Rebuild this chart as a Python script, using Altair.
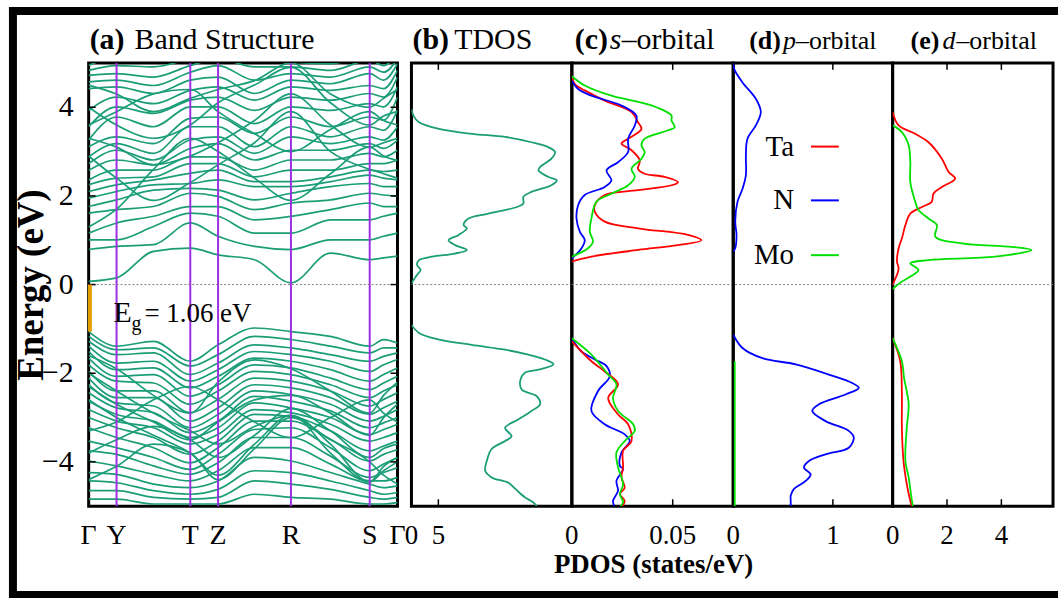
import altair as alt
import pandas as pd

FONT = "Liberation Serif, Times New Roman, Times, serif"
TEAL = "#1b9e77"
PURPLE = "#9b30e0"
ORANGE = "#e69f00"
RED = "#ff0000"
BLUE = "#0000ff"
GREEN = "#00e000"

# ---------------- band structure ----------------
K_SAMPLE = [0.0, 0.0903, 0.21, 0.329, 0.419, 0.537, 0.655, 0.783, 0.910, 0.955, 1.0]
SYM_K = [0.0, 0.0903, 0.329, 0.419, 0.655, 0.910, 1.0]
SYM_LABELS = ["Γ", "Y", "T", "Z", "R", "S", "Γ"]
GAP = 1.06
E_TICKS = [-4, -2, 0, 2, 4]
E_TICK_LABELS = ["−4", "−2", "0", "2", "4"]

# conduction levels (eV) read at each sample point, low to high
CB_G0 = [0.07, 0.79, 1.01, 1.16, 1.61, 1.76, 1.95, 2.10, 2.25, 2.36, 2.58, 2.73, 2.88, 3.11, 3.26, 3.56, 3.93, 4.42, 4.57, 4.72, 4.83, 4.94]
CB_Y = [0.15, 0.86, 1.01, 1.39, 1.69, 1.91, 2.10, 2.25, 2.40, 2.58, 2.81, 3.03, 3.18, 3.33, 3.78, 4.01, 4.23, 4.46, 4.61, 4.76, 4.94, 5.13]
CB_YT = [0.75, 0.90, 1.31, 1.54, 1.76, 2.13, 2.25, 2.36, 2.43, 2.58, 2.70, 2.81, 2.96, 3.18, 3.56, 3.86, 4.08, 4.31, 4.49, 4.68, 4.91, 5.13]
CB_T = [0.82, 1.39, 1.61, 1.76, 2.06, 2.17, 2.28, 2.51, 2.73, 2.88, 3.07, 3.26, 3.56, 3.75, 4.01, 4.16, 4.38, 4.61, 4.79, 4.94, 5.09, 5.21]
CB_Z = [0.67, 1.09, 1.54, 1.76, 1.99, 2.13, 2.36, 2.58, 2.73, 2.88, 3.18, 3.33, 3.56, 3.78, 4.01, 4.23, 4.46, 4.68, 4.94, 5.09, 5.21, 5.32]
CB_ZR = [0.56, 0.86, 1.16, 1.46, 1.69, 1.91, 2.21, 2.32, 2.43, 2.58, 2.81, 2.96, 3.11, 3.41, 3.63, 3.93, 4.16, 4.31, 4.61, 4.91, 5.09, 5.21]
CB_R = [0.04, 0.79, 1.16, 1.54, 1.84, 2.06, 2.21, 2.32, 2.58, 2.81, 3.03, 3.33, 3.56, 3.78, 4.01, 4.23, 4.46, 4.61, 4.76, 4.91, 5.02, 5.13]
CB_RS = [0.71, 1.01, 1.46, 1.69, 1.91, 2.21, 2.32, 2.43, 2.58, 2.81, 3.03, 3.18, 3.33, 3.56, 3.93, 4.16, 4.38, 4.53, 4.68, 4.83, 4.98, 5.13]
CB_S = [0.56, 1.01, 1.46, 1.84, 2.06, 2.28, 2.47, 2.58, 2.73, 2.96, 3.18, 3.33, 3.56, 3.78, 4.08, 4.31, 4.49, 4.76, 4.91, 5.06, 5.17, 5.28]
CB_SG = [0.60, 1.09, 1.54, 1.76, 2.02, 2.21, 2.40, 2.55, 2.73, 2.88, 3.07, 3.26, 3.48, 3.71, 4.01, 4.23, 4.42, 4.61, 4.79, 4.94, 5.09, 5.21]
CB_G1 = [0.64, 1.16, 1.61, 1.76, 1.99, 2.21, 2.36, 2.58, 2.81, 3.03, 3.26, 3.56, 3.93, 4.23, 4.46, 4.68, 4.83, 4.98, 5.09, 5.21, 5.28, 5.36]

# valence levels (eV) read at each sample point, high to low
VB_G0 = [-1.06, -1.17, -1.28, -1.39, -1.51, -1.66, -1.81, -1.96, -2.11, -2.26, -2.44, -2.63, -2.82, -3.00, -3.23, -3.53, -3.75, -3.98, -4.24, -4.43, -4.65, -4.84]
VB_Y = [-1.39, -1.47, -1.58, -1.77, -1.92, -2.07, -2.18, -2.40, -2.55, -2.67, -2.78, -2.93, -3.08, -3.23, -3.45, -3.68, -3.83, -4.09, -4.28, -4.47, -4.65, -4.84]
VB_YT = [-1.28, -1.43, -1.54, -1.73, -1.88, -2.03, -2.22, -2.40, -2.55, -2.74, -2.89, -3.08, -3.23, -3.45, -3.68, -3.90, -4.09, -4.28, -4.50, -4.65, -4.80, -4.95]
VB_T = [-1.73, -1.84, -2.03, -2.18, -2.33, -2.52, -2.70, -2.89, -3.08, -3.23, -3.34, -3.45, -3.60, -3.83, -4.02, -4.17, -4.28, -4.43, -4.58, -4.73, -4.84, -4.95]
VB_Z = [-1.36, -1.58, -1.77, -1.92, -2.07, -2.26, -2.40, -2.59, -2.78, -2.93, -3.08, -3.23, -3.38, -3.53, -3.68, -3.83, -4.02, -4.20, -4.43, -4.62, -4.80, -4.95]
VB_ZR = [-0.98, -1.17, -1.36, -1.51, -1.66, -1.81, -1.96, -2.11, -2.26, -2.40, -2.52, -2.67, -2.82, -2.93, -3.08, -3.27, -3.45, -3.68, -3.90, -4.20, -4.43, -4.73]
VB_R = [-1.06, -1.24, -1.43, -1.58, -1.73, -1.88, -2.03, -2.18, -2.33, -2.48, -2.63, -2.78, -2.89, -2.97, -3.08, -3.23, -3.45, -3.68, -3.98, -4.24, -4.50, -4.80]
VB_RS = [-1.17, -1.39, -1.58, -1.73, -1.92, -2.11, -2.26, -2.40, -2.55, -2.70, -2.85, -3.00, -3.15, -3.30, -3.49, -3.68, -3.87, -4.05, -4.24, -4.43, -4.62, -4.84]
VB_S = [-1.39, -1.54, -1.73, -1.96, -2.18, -2.37, -2.55, -2.74, -2.93, -3.08, -3.23, -3.38, -3.53, -3.75, -3.98, -4.20, -4.35, -4.43, -4.50, -4.65, -4.80, -4.95]
VB_SG = [-1.24, -1.43, -1.62, -1.81, -2.03, -2.22, -2.40, -2.59, -2.78, -2.97, -3.12, -3.27, -3.45, -3.64, -3.83, -4.05, -4.24, -4.43, -4.58, -4.73, -4.84, -4.95]
VB_G1 = [-1.32, -1.43, -1.54, -1.69, -1.88, -2.07, -2.26, -2.44, -2.63, -2.82, -3.00, -3.15, -3.34, -3.53, -3.72, -3.90, -4.13, -4.35, -4.54, -4.69, -4.80, -4.92]

# bands that visibly cross the others
CROSS_1 = [1.3, 1.7, 2.6, 3.3, 3.0, 2.4, 1.9, 2.5, 3.1, 2.9, 2.8]
CROSS_2 = [2.9, 2.4, 1.9, 2.3, 2.7, 3.2, 3.9, 3.0, 2.6, 2.5, 2.4]
CROSS_3 = [4.0, 3.6, 3.3, 3.6, 4.1, 4.5, 4.9, 4.1, 3.6, 3.8, 3.9]
CROSS_4 = [3.6, 3.9, 4.3, 4.4, 3.9, 3.4, 3.0, 3.5, 3.9, 3.7, 3.6]
CROSS_5 = [-2.0, -2.4, -2.9, -3.3, -3.6, -3.2, -2.95, -3.6, -4.45, -4.1, -3.9]
CROSS_6 = [-2.6, -3.0, -3.4, -3.8, -4.3, -3.6, -2.95, -3.8, -4.45, -4.2, -4.0]
CROSS_7 = [-3.3, -3.1, -2.6, -2.3, -2.6, -3.1, -3.45, -3.0, -2.6, -2.9, -3.1]
CROSS_8 = [-4.4, -4.1, -3.6, -3.8, -4.4, -3.7, -3.0, -3.5, -4.0, -4.3, -4.5]
CROSS_9 = [-1.6, -1.9, -2.5, -2.9, -2.2, -1.7, -1.9, -2.4, -2.9, -2.5, -2.2]
CROSS_10 = [4.5, 4.3, 3.9, 4.2, 4.4, 4.6, 5.0, 4.3, 4.0, 4.2, 4.4]
CROSS_11 = [3.3, 3.1, 2.7, 2.9, 3.2, 3.7, 4.3, 3.6, 3.1, 3.2, 3.3]
CROSS_12 = [-3.8, -3.5, -3.2, -3.5, -3.9, -3.4, -2.8, -3.3, -3.9, -3.7, -3.6]
CROSS_13 = [-2.3, -2.7, -3.1, -3.5, -3.1, -2.6, -2.5, -2.9, -3.4, -3.0, -2.7]

# ---------------- DOS (E in eV, value in states/eV) ----------------
TDOS_C_E = [3.96, 3.80, 3.66, 3.51, 3.40, 3.33, 3.21, 3.10, 2.99, 2.84, 2.65, 2.58, 2.43, 2.35, 2.24, 2.09, 1.98, 1.83, 1.75, 1.60, 1.49, 1.34, 1.27, 1.12, 1.00, 0.89, 0.78, 0.70, 0.63, 0.55, 0.44, 0.33, 0.22, 0.03]
TDOS_C_V = [0.0, 0.4, 1.4, 5.1, 11.2, 17.4, 22.3, 25.4, 26.7, 26.0, 23.9, 23.6, 25.4, 27.0, 26.0, 22.3, 20.8, 20.8, 19.6, 14.3, 10.6, 9.7, 10.3, 8.8, 6.9, 8.1, 10.3, 8.1, 3.8, 1.4, 1.05, 1.7, 1.05, 0.0]
TDOS_V_E = [-0.91, -1.09, -1.24, -1.36, -1.47, -1.58, -1.69, -1.80, -1.92, -1.99, -2.18, -2.37, -2.52, -2.70, -2.85, -3.04, -3.23, -3.42, -3.53, -3.71, -3.98, -4.20, -4.35, -4.47, -4.61, -4.80, -4.91, -5.0]
TDOS_V_V = [0.0, 1.4, 5.1, 11.2, 17.4, 21.7, 24.8, 26.4, 23.6, 21.1, 20.2, 20.5, 23.3, 23.9, 22.3, 19.9, 17.4, 18.6, 17.4, 14.9, 14.0, 13.7, 14.9, 18.0, 19.3, 21.1, 22.6, 23.3]

S_TA_C_E = [0.52, 0.63, 0.78, 0.89, 1.00, 1.12, 1.27, 1.42, 1.64, 1.79, 2.02, 2.13, 2.24, 2.31, 2.43, 2.50, 2.61, 2.80, 3.03, 3.18, 3.29, 3.51, 3.66, 3.89, 4.15, 4.38, 4.52, 4.70]
S_TA_C_V = [0.0, 0.0097, 0.0328, 0.0526, 0.0642, 0.0576, 0.0328, 0.0163, 0.0114, 0.0114, 0.0163, 0.0328, 0.0494, 0.0526, 0.046, 0.0361, 0.0328, 0.0337, 0.0296, 0.0246, 0.0279, 0.0345, 0.0328, 0.0296, 0.0163, 0.0064, 0.0015, 0.0]
S_N_C_E = [0.59, 0.82, 1.00, 1.19, 1.49, 1.79, 2.02, 2.20, 2.35, 2.58, 2.76, 2.99, 3.29, 3.59, 3.81, 4.04, 4.26, 4.41, 4.60]
S_N_C_V = [0.0, 0.0048, 0.0064, 0.004, 0.0023, 0.0031, 0.0064, 0.0163, 0.0196, 0.0172, 0.0229, 0.0279, 0.0279, 0.0312, 0.032, 0.0246, 0.0097, 0.0031, 0.0]
S_MO_C_E = [0.63, 0.82, 0.97, 1.19, 1.49, 1.87, 2.05, 2.24, 2.43, 2.61, 2.84, 2.99, 3.14, 3.29, 3.48, 3.55, 3.70, 3.81, 4.04, 4.26, 4.49, 4.70]
S_MO_C_V = [0.0, 0.008, 0.0105, 0.0089, 0.0097, 0.0122, 0.0196, 0.0279, 0.0312, 0.0296, 0.0345, 0.0361, 0.0345, 0.0361, 0.0477, 0.051, 0.0494, 0.0494, 0.0395, 0.0196, 0.0064, 0.0]
S_TA_V_E = [-1.28, -1.73, -1.96, -2.25, -2.56, -2.93, -3.15, -3.53, -3.75, -4.12, -4.35, -4.58, -4.73, -4.88, -5.0]
S_TA_V_V = [0.0, 0.0097, 0.0163, 0.0229, 0.018, 0.0229, 0.0279, 0.0296, 0.0254, 0.0254, 0.0246, 0.0262, 0.0238, 0.0262, 0.025]
S_N_V_E = [-1.21, -1.51, -1.69, -1.84, -2.07, -2.40, -2.85, -3.15, -3.38, -3.53, -3.79, -4.09, -4.16, -4.43, -4.65, -4.88, -5.0]
S_N_V_V = [0.0, 0.0048, 0.0114, 0.0172, 0.0188, 0.013, 0.0097, 0.0163, 0.0262, 0.0287, 0.0246, 0.0238, 0.0254, 0.0221, 0.0229, 0.0204, 0.021]
S_MO_V_E = [-1.21, -1.58, -2.03, -2.25, -2.56, -2.85, -3.15, -3.30, -3.53, -3.79, -4.12, -4.50, -4.73, -4.91, -5.0]
S_MO_V_V = [0.0, 0.0097, 0.018, 0.0221, 0.0204, 0.0229, 0.0304, 0.0312, 0.0262, 0.0221, 0.0229, 0.0254, 0.0238, 0.0254, 0.024]

P_N_C_E = [0.75, 0.82, 1.12, 1.42, 1.87, 2.16, 2.47, 2.91, 3.29, 3.59, 3.89, 4.19, 4.56, 4.86, 5.0]
P_N_C_V = [0.0, 0.02, 0.033, 0.02, 0.043, 0.093, 0.127, 0.127, 0.143, 0.227, 0.277, 0.227, 0.093, 0.01, 0.0]
P_N_V_E = [-1.13, -1.43, -1.66, -1.80, -2.03, -2.22, -2.33, -2.48, -2.70, -2.85, -3.08, -3.30, -3.45, -3.68, -3.83, -3.98, -4.13, -4.28, -4.43, -4.61, -4.76, -4.88, -5.0]
P_N_V_V = [0.0, 0.093, 0.293, 0.627, 0.96, 1.193, 1.26, 1.127, 0.86, 0.793, 0.927, 1.16, 1.21, 1.16, 0.927, 0.76, 0.71, 0.777, 0.727, 0.61, 0.577, 0.577, 0.577]
P_MO_V_E = [-1.73, -5.0]
P_MO_V_V = [0.015, 0.015]

D_TA_C_E = [0.0, 0.22, 0.37, 0.52, 0.82, 1.04, 1.34, 1.60, 1.75, 1.87, 2.05, 2.20, 2.39, 2.54, 2.84, 3.21, 3.40, 3.59, 3.89]
D_TA_C_V = [0.0, 0.16, 0.22, 0.16, 0.22, 0.34, 0.47, 0.65, 1.08, 1.44, 1.50, 1.81, 2.30, 2.06, 1.81, 1.32, 0.83, 0.22, 0.0]
D_MO_C_E = [-0.10, 0.05, 0.18, 0.33, 0.48, 0.55, 0.63, 0.78, 0.85, 0.93, 1.08, 1.34, 1.49, 1.68, 1.87, 2.31, 2.76, 3.14, 3.44, 3.59]
D_MO_C_V = [0.0, 0.3, 0.65, 0.95, 0.65, 1.32, 3.77, 5.11, 4.38, 2.54, 1.57, 1.63, 1.32, 0.95, 0.83, 0.65, 0.65, 0.59, 0.34, 0.0]
D_TA_V_E = [-1.21, -1.73, -2.48, -3.23, -3.98, -4.50, -4.88, -5.0]
D_TA_V_V = [0.0, 0.28, 0.34, 0.34, 0.40, 0.52, 0.65, 0.70]
D_MO_V_E = [-1.21, -1.73, -2.10, -2.70, -3.23, -3.98, -4.35, -4.88, -5.0]
D_MO_V_V = [0.0, 0.34, 0.42, 0.59, 0.52, 0.47, 0.59, 0.71, 0.75]

ORBITALS = ["TDOS", "Ta", "N", "Mo"]
ORB_COLORS = [TEAL, RED, BLUE, GREEN]

# ---------------- build tables ----------------
rows = []
for kind, cols in (("c", [CB_G0, CB_Y, CB_YT, CB_T, CB_Z, CB_ZR, CB_R, CB_RS, CB_S, CB_SG, CB_G1]),
                   ("v", [VB_G0, VB_Y, VB_YT, VB_T, VB_Z, VB_ZR, VB_R, VB_RS, VB_S, VB_SG, VB_G1])):
    for ki, levels in enumerate(cols):
        for bi, e in enumerate(levels):
            rows.append({"band": f"{kind}{bi}", "k": K_SAMPLE[ki], "E": e})
for bi, arr in enumerate([CROSS_1, CROSS_2, CROSS_3, CROSS_4, CROSS_5, CROSS_6, CROSS_7, CROSS_8, CROSS_9,
                          CROSS_10, CROSS_11, CROSS_12, CROSS_13]):
    for ki, e in enumerate(arr):
        rows.append({"band": f"x{bi}", "k": K_SAMPLE[ki], "E": e})
bands = pd.DataFrame(rows)


def dos_table(series):
    out = []
    for orb, seg, es, vs in series:
        for e, v in zip(es, vs):
            out.append({"orb": orb, "seg": f"{orb}-{seg}", "E": e, "v": v})
    return pd.DataFrame(out)


tdos = dos_table([("TDOS", "c", TDOS_C_E, TDOS_C_V), ("TDOS", "v", TDOS_V_E, TDOS_V_V)])
sdos = dos_table([("Ta", "c", S_TA_C_E, S_TA_C_V), ("N", "c", S_N_C_E, S_N_C_V), ("Mo", "c", S_MO_C_E, S_MO_C_V),
                  ("N", "v", S_N_V_E, S_N_V_V), ("Ta", "v", S_TA_V_E, S_TA_V_V), ("Mo", "v", S_MO_V_E, S_MO_V_V)])
pdos = dos_table([("Mo", "v", P_MO_V_E, P_MO_V_V), ("N", "c", P_N_C_E, P_N_C_V), ("N", "v", P_N_V_E, P_N_V_V)])
ddos = dos_table([("Ta", "c", D_TA_C_E, D_TA_C_V), ("Mo", "c", D_MO_C_E, D_MO_C_V),
                  ("Ta", "v", D_TA_V_E, D_TA_V_V), ("Mo", "v", D_MO_V_E, D_MO_V_V)])

ONE = pd.DataFrame({"d": [0]})
H = 445
YSCALE = alt.Scale(domain=[-5, 5], nice=False, zero=False)
LABEL_BASE = 483  # baseline of the bottom tick labels (px below the top of the plot)


def txt(s, x, y, size, bold=False, italic=False, align="left", baseline="alphabetic", angle=0):
    props = dict(align=align, baseline=baseline, font=FONT, fontSize=size, color="black")
    if bold:
        props["fontWeight"] = "bold"
    if italic:
        props["fontStyle"] = "italic"
    if angle:
        props["angle"] = angle
    return alt.Chart(pd.DataFrame({"s": [s]})).mark_text(**props).encode(
        x=alt.value(x), y=alt.value(y), text="s:N")


def zero_line():
    return alt.Chart(pd.DataFrame({"E": [0]})).mark_rule(color="#808080", strokeWidth=1, strokeDash=[2, 2]
                                                         ).encode(y=alt.Y("E:Q", scale=YSCALE, axis=None))


def bottom_labels(values, labels, xscale, size):
    return alt.Chart(pd.DataFrame({"t": values, "lab": labels})).mark_text(
        align="center", baseline="alphabetic", font=FONT, fontSize=size, color="black").encode(
        x=alt.X("t:Q", scale=xscale, axis=None), y=alt.value(LABEL_BASE), text="lab:N")


# ---------------- panel (a) ----------------
kscale = alt.Scale(domain=[0, 1], nice=False, zero=False)
band_lines = alt.Chart(bands).mark_line(interpolate="monotone", clip=True, color=TEAL, strokeWidth=1.7).encode(
    x=alt.X("k:Q", scale=kscale, axis=None),
    y=alt.Y("E:Q", scale=YSCALE, axis=None),
    detail="band:N", order="k:Q")
sym_lines = alt.Chart(pd.DataFrame({"k": SYM_K[1:-1]})).mark_rule(color=PURPLE, strokeWidth=2).encode(
    x=alt.X("k:Q", scale=kscale, axis=None))
ytick_l = alt.Chart(pd.DataFrame({"E": E_TICKS})).mark_rule(color="black", strokeWidth=1.5).encode(
    y=alt.Y("E:Q", scale=YSCALE, axis=None), x=alt.value(0), x2=alt.value(7))
ytick_r = alt.Chart(pd.DataFrame({"E": E_TICKS})).mark_rule(color="black", strokeWidth=1.5).encode(
    y=alt.Y("E:Q", scale=YSCALE, axis=None), x=alt.value(303), x2=alt.value(310))
ylabels = alt.Chart(pd.DataFrame({"E": E_TICKS, "lab": E_TICK_LABELS})).mark_text(
    align="right", baseline="middle", font=FONT, fontSize=30, color="black").encode(
    y=alt.Y("E:Q", scale=YSCALE, axis=None), x=alt.value(-15), text="lab:N")
gap_arrow = alt.Chart(pd.DataFrame({"k": [0.004], "top": [0.0], "bot": [-GAP]})).mark_rule(
    color=ORANGE, strokeWidth=4).encode(x=alt.X("k:Q", scale=kscale, axis=None),
                                       y=alt.Y("top:Q", scale=YSCALE, axis=None), y2="bot:Q")

frame = [
    alt.Chart(ONE).mark_rect(color="black").encode(x=alt.value(-80), x2=alt.value(-72), y=alt.value(-56), y2=alt.value(538)),
    alt.Chart(ONE).mark_rect(color="black").encode(x=alt.value(-80), x2=alt.value(973), y=alt.value(-56), y2=alt.value(-48)),
    alt.Chart(ONE).mark_rect(color="black").encode(x=alt.value(-80), x2=alt.value(973), y=alt.value(530), y2=alt.value(538)),
]

panel_a = alt.layer(
    band_lines, sym_lines, zero_line(), ytick_l, ytick_r, gap_arrow, ylabels,
    bottom_labels(SYM_K, SYM_LABELS, kscale, 28),
    txt("E", 25, 260, 30), txt("g", 43, 268, 20), txt("= 1.06 eV", 56, 260, 27),
    txt("(a)", 1, -14, 30, bold=True), txt("Band Structure", 46, -14, 30),
    txt("Energy (eV)", -57, 223, 37, bold=True, align="center", baseline="middle", angle=270),
    *frame
).properties(width=310, height=H)


# ---------------- DOS panels ----------------
def dos_panel(df, xmax, ticks, tick_labels, width, extra):
    xs = alt.Scale(domain=[0, xmax], nice=False, zero=False)
    lines = alt.Chart(df).mark_line(interpolate="catmull-rom", clip=True, strokeWidth=1.8).encode(
        x=alt.X("v:Q", scale=xs, axis=None),
        y=alt.Y("E:Q", scale=YSCALE, axis=None),
        color=alt.Color("orb:N", scale=alt.Scale(domain=ORBITALS, range=ORB_COLORS), legend=None),
        detail="seg:N", order=alt.Order("E:Q"))
    inner_ticks = [t for t in ticks if t > 0]
    ttop = alt.Chart(pd.DataFrame({"t": inner_ticks})).mark_rule(color="black", strokeWidth=1.5).encode(
        x=alt.X("t:Q", scale=xs, axis=None), y=alt.value(0), y2=alt.value(7))
    tbot = alt.Chart(pd.DataFrame({"t": inner_ticks})).mark_rule(color="black", strokeWidth=1.5).encode(
        x=alt.X("t:Q", scale=xs, axis=None), y=alt.value(H - 7), y2=alt.value(H))
    labs = bottom_labels(ticks, tick_labels, xs, 27)
    return alt.layer(lines, zero_line(), ttop, tbot, labs, *extra).properties(width=width, height=H)


panel_b = dos_panel(tdos, 29.8, [0, 5], ["0", "5"], 161,
                    [txt("(b)", 1, -14, 30, bold=True), txt("TDOS", 43, -14, 30)])
panel_c = dos_panel(sdos, 0.08, [0, 0.05], ["0", "0.05"], 162,
                    [txt("(c)", 3, -14, 30, bold=True), txt("s", 38, -14, 30, italic=True),
                     txt("–orbital", 50, -14, 30),
                     txt("PDOS (states/eV)", 82, 512, 27, bold=True, align="center")])

legend_rows = []
for name, col, yy in (("Ta", RED, 84), ("N", BLUE, 138), ("Mo", GREEN, 193)):
    legend_rows.append(txt(name, 61, yy, 29, align="right", baseline="middle"))
    legend_rows.append(alt.Chart(ONE).mark_rule(color=col, strokeWidth=2).encode(
        x=alt.value(78), x2=alt.value(106), y=alt.value(yy)))

panel_d = dos_panel(pdos, 1.6, [0, 1], ["0", "1"], 160,
                    [txt("(d)", 16, -14, 26, bold=True), txt("p", 50, -14, 26, italic=True),
                     txt("–orbital", 63, -14, 26), *legend_rows])
panel_e = dos_panel(ddos, 5.9, [0, 2, 4], ["0", "2", "4"], 161,
                    [txt("(e)", 18, -14, 26, bold=True), txt("d", 50, -14, 26, italic=True),
                     txt("–orbital", 64, -14, 26)])

dos_group = alt.hconcat(panel_b, panel_c, panel_d, panel_e, spacing=0, bounds="flush")

chart = alt.hconcat(panel_a, dos_group, spacing=14, bounds="flush").properties(
    padding={"left": 7, "top": 4, "right": 0, "bottom": 0}, background="white"
).configure_view(stroke="black", strokeWidth=3)

chart.save("out.html", embed_options={"renderer": "svg", "actions": False})
